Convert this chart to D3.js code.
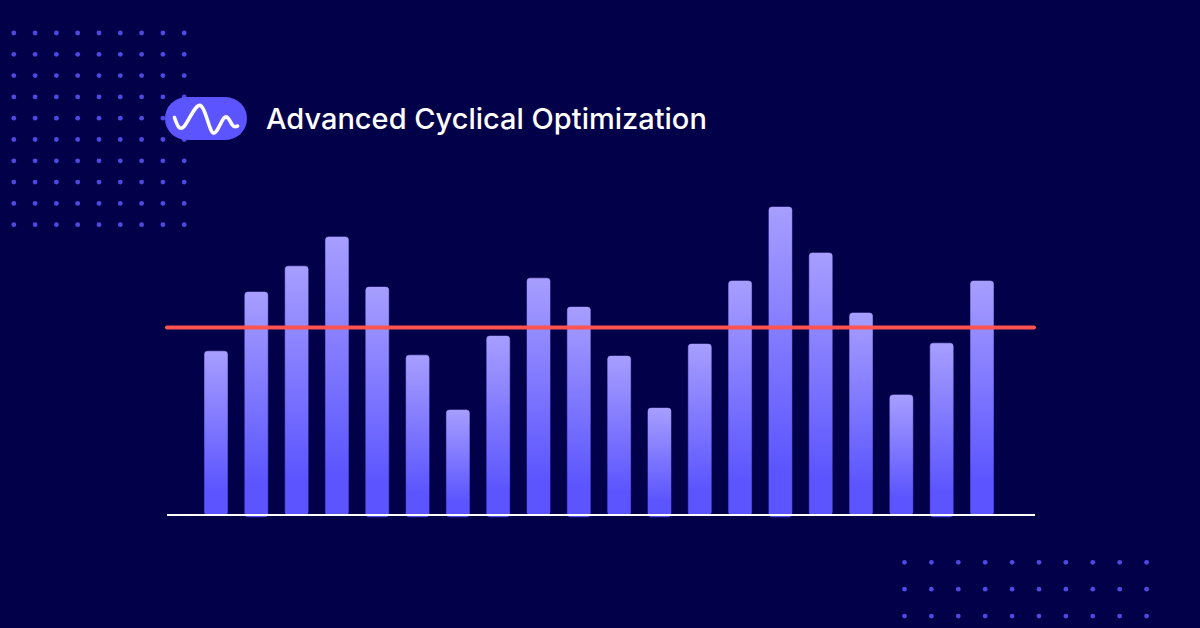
<!DOCTYPE html>
<html>
<head>
<meta charset="utf-8">
<script src="https://cdn.jsdelivr.net/npm/d3@7"></script>
<style>
  html, body { margin: 0; padding: 0; background: #03004a; }
  svg { display: block; }
</style>
</head>
<body>
<div id="chart"></div>
<script>
var chartTitle = 'Advanced Cyclical Optimization';
var periods = d3.range(1, 21);
var barValues = [53.2, 72.4, 80.8, 90.3, 74, 51.9, 34.1, 58.1, 76.9, 67.5, 51.6, 34.7, 55.5, 76, 100, 85.1, 65.6, 39, 55.8, 76];
// some bars run slightly past the baseline
var barBases = [0, -0.6, 0, 0, -0.6, -0.6, -0.6, -0.6, 0, -0.6, 0, -0.6, 0, 0, -0.6, 0, 0, 0, -0.6, 0];
var averageValue = 60.9;

var width = 1200, height = 628;

var svg = d3.select('#chart')
    .append('svg')
    .attr('width', width)
    .attr('height', height);

svg.append('rect')
    .attr('width', width)
    .attr('height', height)
    .attr('fill', '#03004a');

var defs = svg.append('defs');
var grad = defs.append('linearGradient')
    .attr('id', 'barGrad')
    .attr('x1', 0).attr('y1', 0)
    .attr('x2', 0).attr('y2', 1);
grad.append('stop').attr('offset', '0%').attr('stop-color', '#a79eff');
grad.append('stop').attr('offset', '85%').attr('stop-color', '#5c55ff');
grad.append('stop').attr('offset', '100%').attr('stop-color', '#5c55ff');

// background dots
function dotGrid(x0, y0, step, cols, rows) {
    var cells = [];
    d3.range(rows).forEach(function(r) {
        d3.range(cols).forEach(function(c) {
            cells.push([x0 + c * step, y0 + r * step]);
        });
    });
    svg.append('g')
        .selectAll('circle')
        .data(cells)
        .enter()
        .append('circle')
        .attr('cx', function(d) { return d[0]; })
        .attr('cy', function(d) { return d[1]; })
        .attr('r', 2.4)
        .attr('fill', '#4f48e2');
}
dotGrid(13.8, 33, 21.3, 9, 10);
dotGrid(904.5, 562.3, 26.9, 10, 3);

// scales
var x = d3.scalePoint()
    .domain(periods)
    .range([216, 982]);
var y = d3.scaleLinear()
    .domain([0, 100])
    .range([515, 207]);

var barWidth = 23;

svg.append('g')
    .selectAll('rect')
    .data(barValues)
    .enter()
    .append('rect')
    .attr('x', function(d, i) { return x(periods[i]) - barWidth / 2; })
    .attr('y', function(d) { return y(d); })
    .attr('width', barWidth)
    .attr('height', function(d, i) { return y(barBases[i]) - y(d); })
    .attr('rx', 3)
    .attr('fill', 'url(#barGrad)')
    .attr('stroke', 'url(#barGrad)')
    .attr('stroke-opacity', 0.5);

// baseline
svg.append('line')
    .attr('x1', 167).attr('x2', 1035)
    .attr('y1', y(0)).attr('y2', y(0))
    .attr('stroke', '#fff')
    .attr('stroke-width', 2);

// average line
svg.append('line')
    .attr('x1', 167).attr('x2', 1034)
    .attr('y1', y(averageValue)).attr('y2', y(averageValue))
    .attr('stroke', '#ff5350')
    .attr('stroke-width', 4)
    .attr('stroke-linecap', 'round');

// title pill + wave icon
svg.append('rect')
    .attr('x', 165).attr('y', 97)
    .attr('width', 82).attr('height', 43)
    .attr('rx', 21.5)
    .attr('fill', '#5c55ff');

var wavePoints = [[174.5, 117.5], [184, 126.5], [200.5, 105.5], [212.5, 132.5], [224, 118], [232, 124.5], [237.5, 126]];
var wave = d3.line().curve(d3.curveNatural);
svg.append('path')
    .attr('d', wave(wavePoints))
    .attr('fill', 'none')
    .attr('stroke', '#fff')
    .attr('stroke-width', 3.6)
    .attr('stroke-linecap', 'round');

svg.append('text')
    .attr('x', 266)
    .attr('y', 129)
    .attr('font-family', 'Inter, sans-serif')
    .attr('font-size', 29)
    .attr('font-weight', 500)
    .attr('fill', '#fff')
    .text(chartTitle);
</script>
</body>
</html>
